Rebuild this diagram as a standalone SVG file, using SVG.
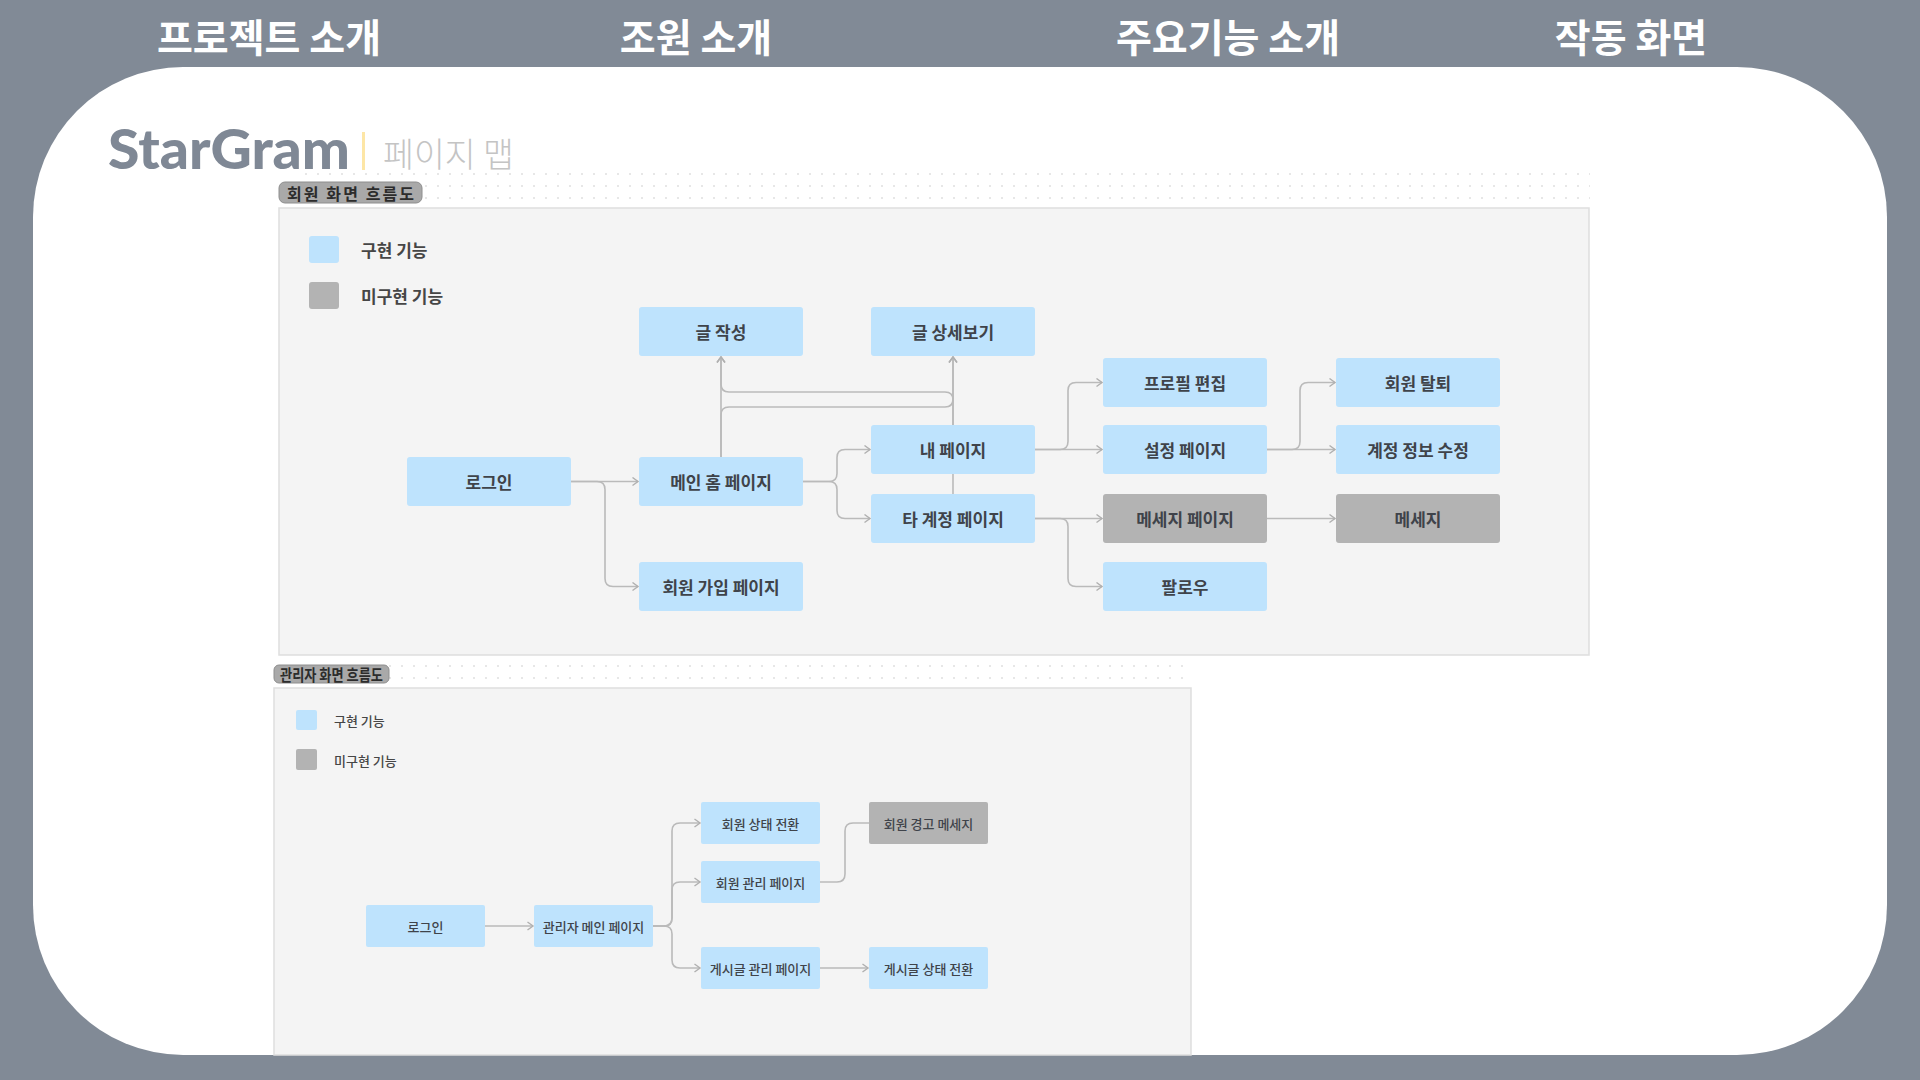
<svg xmlns="http://www.w3.org/2000/svg" width="1920" height="1080" viewBox="0 0 1920 1080">
  <defs>
    <style>
      .tab { font-family: "Noto Sans CJK KR", "Noto Sans", sans-serif; font-weight: 700; font-size: 39px; fill: #ffffff; text-anchor: middle; dominant-baseline: central; }
      .node rect { fill: #bee3fd; }
      .node.todo rect { fill: #b3b3b3; }
      .node text { font-family: "Noto Sans CJK KR", "Noto Sans", sans-serif; font-weight: 700; font-size: 17px; fill: #3f434a; text-anchor: middle; dominant-baseline: central; }
      .small text { font-size: 13px; font-weight: 500; }
      .leg { font-family: "Noto Sans CJK KR", "Noto Sans", sans-serif; font-weight: 700; font-size: 17px; fill: #464646; dominant-baseline: central; }
      .leg.s { font-size: 13px; font-weight: 500; }
      .pill { fill: #a9a9a9; stroke: #8e8e8e; stroke-width: 1; }
      .pilltxt { font-family: "Noto Sans CJK KR", "Noto Sans", sans-serif; font-weight: 700; font-size: 16px; fill: #2c2c2c; dominant-baseline: central; }
      .conn path { fill: none; stroke: #bababa; stroke-width: 1.6; }
      .arr { marker-end: url(#arrow); }
    </style>
    <marker id="arrow" markerUnits="userSpaceOnUse" markerWidth="10" markerHeight="10" refX="7" refY="5" orient="auto">
      <path d="M1.5,1 L7,5 L1.5,9" fill="none" stroke="#b0b0b0" stroke-width="1.4"/>
    </marker>
    <pattern id="dots" width="12" height="12" patternUnits="userSpaceOnUse">
      <circle cx="6" cy="6" r="0.9" fill="#dcdcdc"/>
    </pattern>
  </defs>

  <!-- background -->
  <rect x="0" y="0" width="1920" height="1080" fill="#818a96"/>
  <rect x="33" y="67" width="1854" height="988" rx="150" ry="150" fill="#ffffff"/>

  <!-- tabs -->
  <text class="tab" x="269" y="35">프로젝트 소개</text>
  <text class="tab" x="696" y="35">조원 소개</text>
  <text class="tab" x="1228" y="35">주요기능 소개</text>
  <text class="tab" x="1631" y="35">작동 화면</text>

  <!-- title -->
  <text x="108" y="169" font-family="Lato, 'Noto Sans', sans-serif" font-weight="900" font-size="56" fill="#7f8895" textLength="242" lengthAdjust="spacingAndGlyphs">StarGram</text>
  <rect x="362" y="132" width="3" height="38" fill="#fde6a6"/>
  <text x="383" y="167" font-family="'Noto Sans CJK KR', sans-serif" font-weight="300" font-size="34" fill="#c4c4c4" textLength="131" lengthAdjust="spacingAndGlyphs">페이지 맵</text>

  <!-- dotted areas -->
  <rect x="300" y="164" width="1290" height="44" fill="url(#dots)"/>
  <rect x="279" y="656" width="914" height="32" fill="url(#dots)"/>

  <!-- member panel -->
  <rect x="279" y="208" width="1310" height="447" fill="#f4f4f4" stroke="#dedede" stroke-width="1.5"/>
  <rect class="pill" x="279" y="182" width="143" height="21" rx="6"/>
  <text class="pilltxt" x="287" y="193" textLength="127">회원 화면 흐름도</text>

  <rect x="309" y="236" width="30" height="27" rx="3" fill="#bee3fd"/>
  <text class="leg" x="361" y="249">구현 기능</text>
  <rect x="309" y="282" width="30" height="27" rx="3" fill="#b3b3b3"/>
  <text class="leg" x="361" y="295">미구현 기능</text>

  <!-- admin panel -->
  <rect x="274" y="688" width="917" height="367" fill="#f4f4f4" stroke="#dedede" stroke-width="1.5"/>
  <rect class="pill" x="274" y="665" width="115" height="18" rx="5"/>
  <text class="pilltxt" x="280" y="674" font-size="12" textLength="103" lengthAdjust="spacingAndGlyphs">관리자 화면 흐름도</text>

  <rect x="296" y="710" width="21" height="20" rx="2" fill="#bee3fd"/>
  <text class="leg s" x="334" y="720">구현 기능</text>
  <rect x="296" y="749" width="21" height="21" rx="2" fill="#b3b3b3"/>
  <text class="leg s" x="334" y="760">미구현 기능</text>

  <!-- connectors -->
  <g id="connectors" class="conn">
    <path class="arr" d="M571,481.5 H638"/>
    <path class="arr" d="M571,481.5 H597 Q605,481.5 605,489.5 V578.5 Q605,586.5 613,586.5 H638"/>
    <path class="arr" d="M721,457 V357"/>
    <path class="arr" d="M721,457 V415 Q721,407 729,407 H945 Q953,407 953,399 V357"/>
    <path class="arr" d="M953,494 V357"/>
    <path class="arr" d="M953,425 V400 Q953,392 945,392 H729 Q721,392 721,384 V357"/>
    <path class="arr" d="M803,481.5 H829 Q837,481.5 837,473.5 V457.5 Q837,449.5 845,449.5 H870"/>
    <path class="arr" d="M803,481.5 H829 Q837,481.5 837,489.5 V510.5 Q837,518.5 845,518.5 H870"/>
    <path class="arr" d="M1035,449.5 H1102"/>
    <path class="arr" d="M1035,449.5 H1060 Q1068,449.5 1068,441.5 V390.5 Q1068,382.5 1076,382.5 H1102"/>
    <path class="arr" d="M1267,449.5 H1335"/>
    <path class="arr" d="M1267,449.5 H1292 Q1300,449.5 1300,441.5 V390.5 Q1300,382.5 1308,382.5 H1335"/>
    <path class="arr" d="M1035,518.5 H1102"/>
    <path class="arr" d="M1035,518.5 H1060 Q1068,518.5 1068,526.5 V578.5 Q1068,586.5 1076,586.5 H1102"/>
    <path class="arr" d="M1267,518.5 H1335"/>

    <path class="arr" d="M485,926 H533"/>
    <path class="arr" d="M653,926 H664 Q672,926 672,918 V831 Q672,823 680,823 H700"/>
    <path class="arr" d="M653,926 H664 Q672,926 672,918 V890 Q672,882 680,882 H700"/>
    <path class="arr" d="M653,926 H664 Q672,926 672,934 V960 Q672,968 680,968 H700"/>
    <path d="M820,882 H837 Q845,882 845,874 V831 Q845,823 853,823 H869"/>
    <path class="arr" d="M820,968 H868"/>
  </g>

  <!-- member nodes -->
  <g id="m-write" class="node"><rect x="639" y="307" width="164" height="49" rx="3"/><text x="721" y="331.5">글 작성</text></g>
  <g id="m-detail" class="node"><rect x="871" y="307" width="164" height="49" rx="3"/><text x="953" y="331.5">글 상세보기</text></g>
  <g id="m-profile" class="node"><rect x="1103" y="358" width="164" height="49" rx="3"/><text x="1185" y="382.5">프로필 편집</text></g>
  <g id="m-withdraw" class="node"><rect x="1336" y="358" width="164" height="49" rx="3"/><text x="1418" y="382.5">회원 탈퇴</text></g>
  <g id="m-mypage" class="node"><rect x="871" y="425" width="164" height="49" rx="3"/><text x="953" y="449.5">내 페이지</text></g>
  <g id="m-settings" class="node"><rect x="1103" y="425" width="164" height="49" rx="3"/><text x="1185" y="449.5">설정 페이지</text></g>
  <g id="m-account" class="node"><rect x="1336" y="425" width="164" height="49" rx="3"/><text x="1418" y="449.5">계정 정보 수정</text></g>
  <g id="m-login" class="node"><rect x="407" y="457" width="164" height="49" rx="3"/><text x="489" y="481.5">로그인</text></g>
  <g id="m-main" class="node"><rect x="639" y="457" width="164" height="49" rx="3"/><text x="721" y="481.5">메인 홈 페이지</text></g>
  <g id="m-other" class="node"><rect x="871" y="494" width="164" height="49" rx="3"/><text x="953" y="518.5">타 계정 페이지</text></g>
  <g id="m-msgpage" class="node todo"><rect x="1103" y="494" width="164" height="49" rx="3"/><text x="1185" y="518.5">메세지 페이지</text></g>
  <g id="m-msg" class="node todo"><rect x="1336" y="494" width="164" height="49" rx="3"/><text x="1418" y="518.5">메세지</text></g>
  <g id="m-signup" class="node"><rect x="639" y="562" width="164" height="49" rx="3"/><text x="721" y="586.5">회원 가입 페이지</text></g>
  <g id="m-follow" class="node"><rect x="1103" y="562" width="164" height="49" rx="3"/><text x="1185" y="586.5">팔로우</text></g>

  <!-- admin nodes -->
  <g id="a-login" class="node small"><rect x="366" y="905" width="119" height="42" rx="2"/><text x="425.5" y="926">로그인</text></g>
  <g id="a-main" class="node small"><rect x="534" y="905" width="119" height="42" rx="2"/><text x="593.5" y="926">관리자 메인 페이지</text></g>
  <g id="a-status" class="node small"><rect x="701" y="802" width="119" height="42" rx="2"/><text x="760.5" y="823">회원 상태 전환</text></g>
  <g id="a-members" class="node small"><rect x="701" y="861" width="119" height="42" rx="2"/><text x="760.5" y="882">회원 관리 페이지</text></g>
  <g id="a-posts" class="node small"><rect x="701" y="947" width="119" height="42" rx="2"/><text x="760.5" y="968">게시글 관리 페이지</text></g>
  <g id="a-warn" class="node small todo"><rect x="869" y="802" width="119" height="42" rx="2"/><text x="928.5" y="823">회원 경고 메세지</text></g>
  <g id="a-poststatus" class="node small"><rect x="869" y="947" width="119" height="42" rx="2"/><text x="928.5" y="968">게시글 상태 전환</text></g>
</svg>
